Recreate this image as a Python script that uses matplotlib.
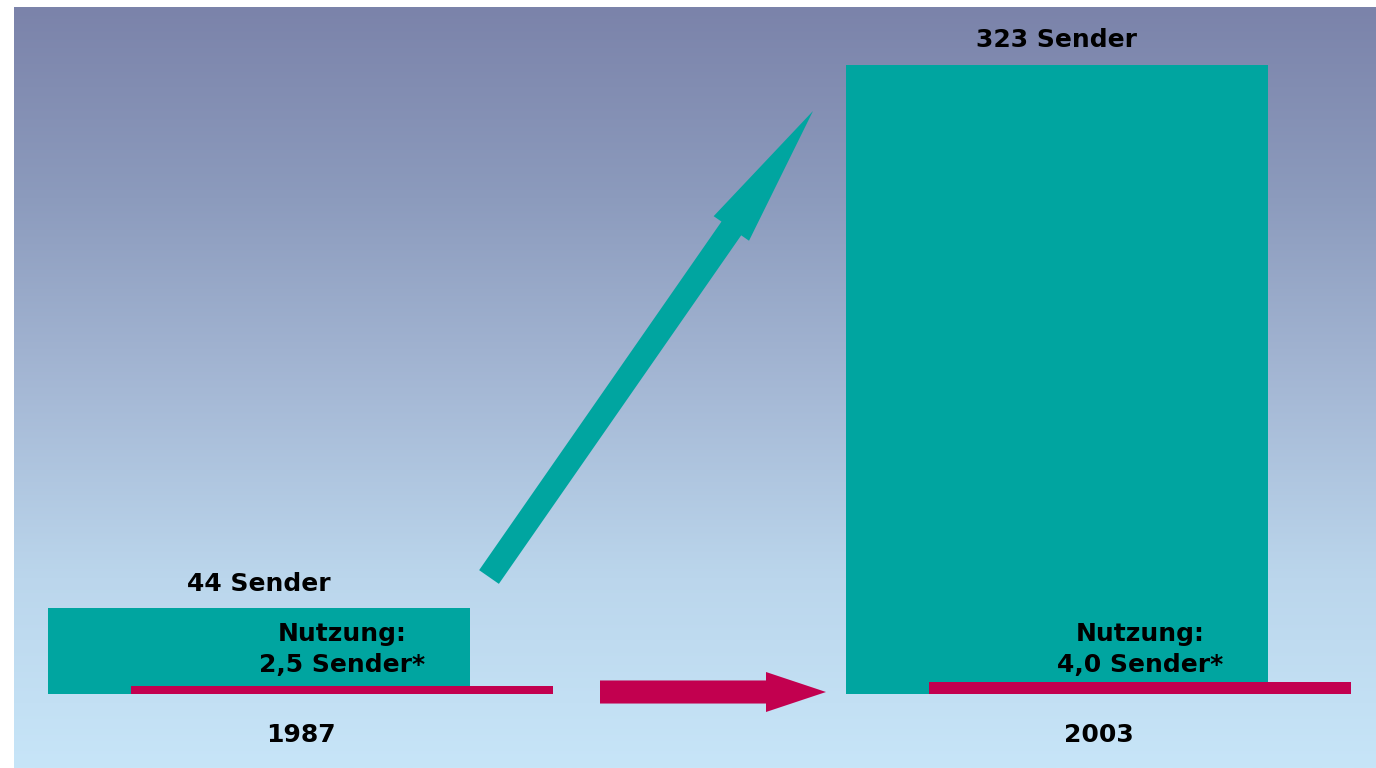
import numpy as np
import matplotlib
matplotlib.use('Agg')
from matplotlib import pyplot as plt
from matplotlib.colors import LinearSegmentedColormap
from matplotlib.patches import FancyArrowPatch

# Anzahl empfangbarer Sender und tatsaechliche Nutzung
years    = ['1987', '2003']
channels = [44, 323]
usage    = [2.5, 4.0]

TEAL    = '#00a5a0'
MAGENTA = '#c2004f'
W, H, DPI = 1376, 768, 100

fig = plt.figure(figsize=(W/DPI, H/DPI), dpi=DPI)
fig.patch.set_facecolor('white')

# plot area: white strip left and top
left, top = 14, 7
ax = fig.add_axes([left/W, 0, 1-left/W, 1-top/H])
ax.set_axis_off()

# x in group units (1 group = 798 px), y in "Sender"
px_x = 798.0
px_y = 629.0/323
x0_px = 259.0
xlim = ((left-x0_px)/px_x, (W-x0_px)/px_x)
ylim = (-(H-694)/px_y, (694-top)/px_y)

# background gradient
bg = LinearSegmentedColormap.from_list('bg', [
    (0.00, (123/255, 131/255, 170/255)),
    (0.25, (140/255, 155/255, 189/255)),
    (0.50, (165/255, 184/255, 213/255)),
    (0.75, (187/255, 214/255, 236/255)),
    (1.00, (199/255, 229/255, 248/255))])
grad = np.linspace(1, 0, 256).reshape(-1, 1)
ax.imshow(grad, cmap=bg, aspect='auto', extent=[xlim[0], xlim[1], ylim[0], ylim[1]],
          origin='lower', zorder=0)
ax.set_xlim(xlim)
ax.set_ylim(ylim)

x = np.arange(len(years))
bar_w = 422/px_x
shift = 83/px_x
usage_scale = 1.55   # thickness of the usage line per Sender

ax.bar(x, channels, width=bar_w, color=TEAL, zorder=2)
ax.bar(x+shift, np.array(usage)*usage_scale, width=bar_w, color=MAGENTA, zorder=3)

font = dict(fontsize=18, fontweight='bold', color='black', family='DejaVu Sans')
for i in range(len(years)):
    ax.text(x[i], channels[i]+6.5, f'{channels[i]} Sender', ha='center', va='bottom', **font)
    u = f'{usage[i]:.1f}'.replace('.', ',')
    ax.text(x[i]+shift, 8.5, f'Nutzung:\n{u} Sender*', ha='center', va='bottom',
            linespacing=1.4, zorder=4, **font)
    ax.text(x[i]+shift/2, -21, years[i], ha='center', va='center', **font)

# arrows (figure pixels, origin bottom left)
def fpx(px, py):
    return (px/W, 1-py/H)

pt = DPI/72.0
up = FancyArrowPatch(fpx(489, 577), fpx(813, 111), transform=fig.transFigure,
                     arrowstyle=f'simple,head_length={143/pt:.1f},head_width={43/pt:.1f},tail_width={24/pt:.1f}',
                     mutation_scale=1, shrinkA=0, shrinkB=0, color=TEAL, lw=0, zorder=5)
fig.add_artist(up)
right = FancyArrowPatch(fpx(600, 692), fpx(826, 692), transform=fig.transFigure,
                        arrowstyle=f'simple,head_length={60/pt:.1f},head_width={40/pt:.1f},tail_width={23/pt:.1f}',
                        mutation_scale=1, shrinkA=0, shrinkB=0, color=MAGENTA, lw=0, zorder=5)
fig.add_artist(right)

plt.savefig('out.png', dpi=DPI)
